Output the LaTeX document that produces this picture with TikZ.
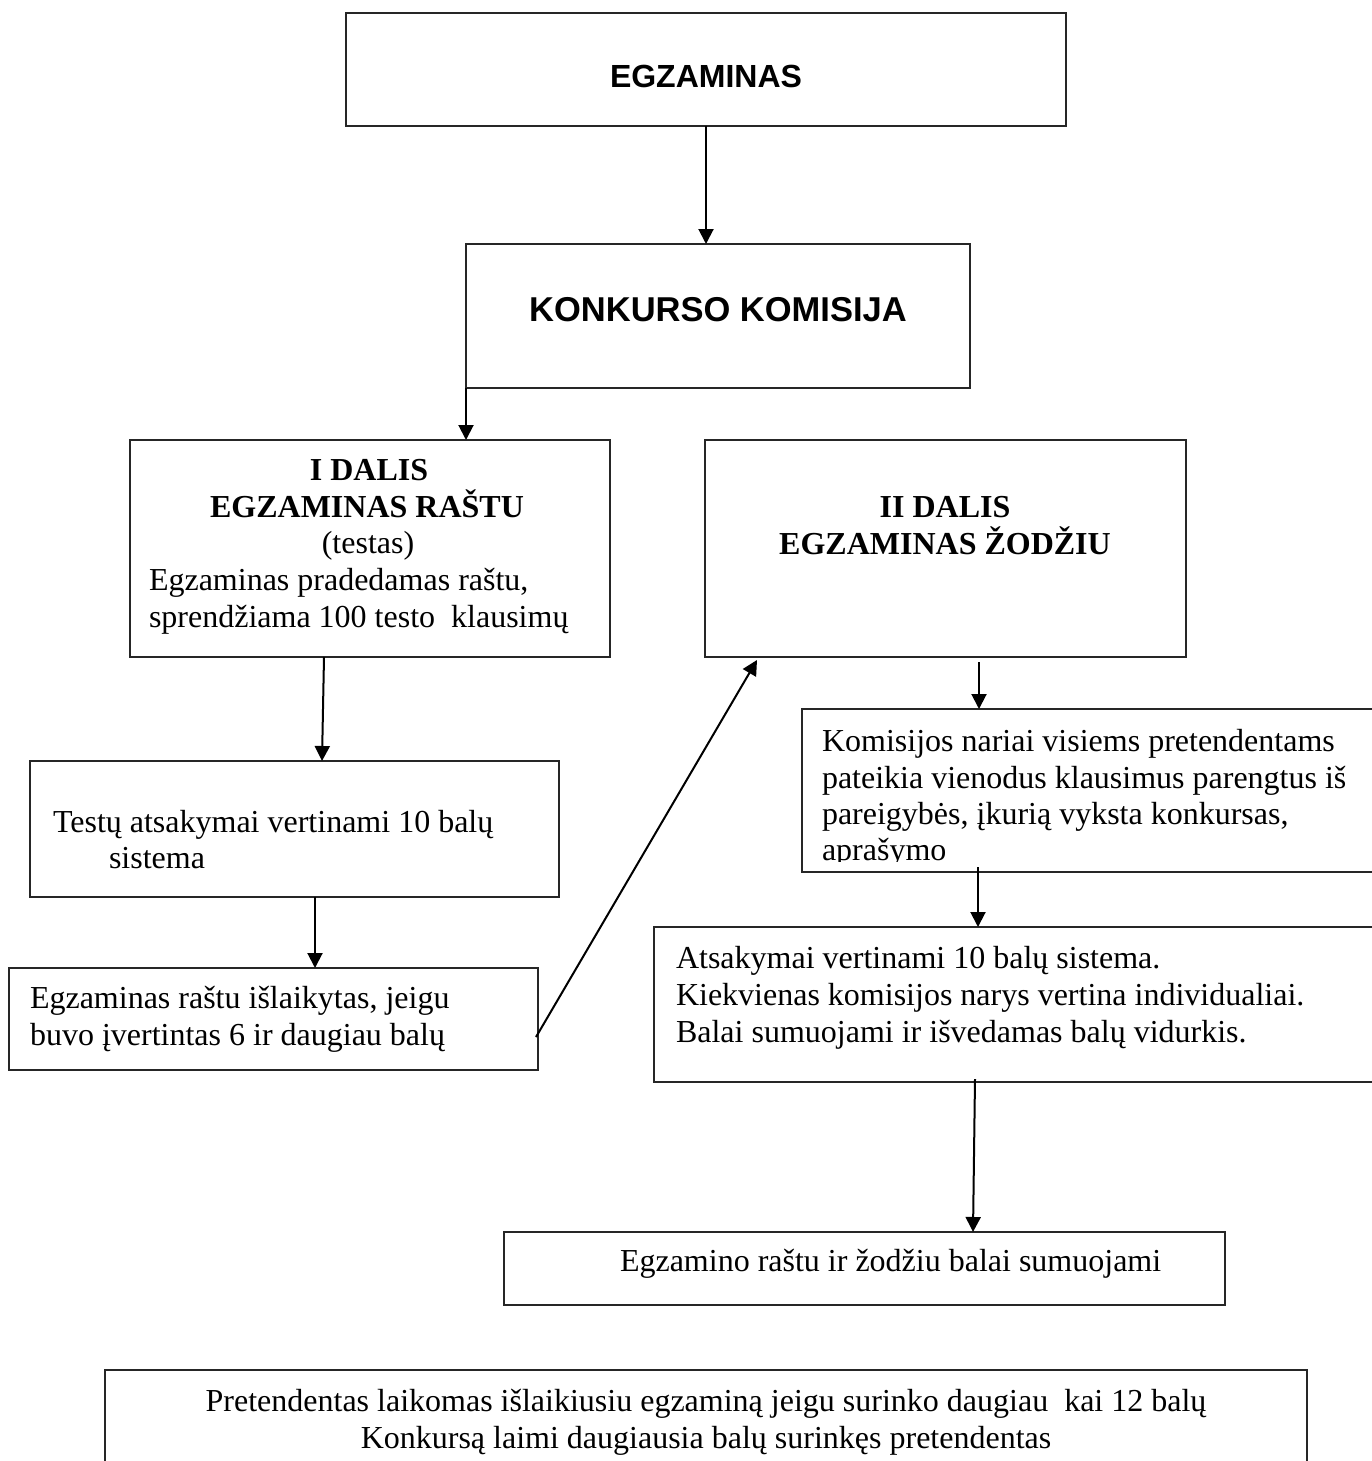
\documentclass[tikz,border=0pt]{standalone}
\usepackage{fontspec}
\setmainfont{Liberation Serif}
\setsansfont{Liberation Sans}
\usetikzlibrary{arrows.meta}
\begin{document}
\begin{tikzpicture}[x=0.5pt,y=-0.5pt,
  box/.style={draw=black!85, line width=1pt, inner sep=0pt, outer sep=0pt, anchor=north west},
  arr/.style={draw=black, line width=1pt, -{Triangle[length=7.5pt,width=7.5pt]}},
  txt/.style={inner sep=0pt, outer sep=0pt, font=\fontsize{16pt}{18.5pt}\selectfont},
  txtw/.style={txt, anchor=base west},
  txtc/.style={txt, anchor=base},
  head/.style={inner sep=0pt, outer sep=0pt, anchor=base, font=\sffamily\bfseries\fontsize{16pt}{18.5pt}\selectfont},
  bhead/.style={txtc, font=\bfseries\fontsize{16pt}{18.5pt}\selectfont}]
\useasboundingbox (0,0) rectangle (1371,1461);
\fill[white] (0,0) rectangle (1371,1461);

% boxes
\node[box, minimum width=360pt, minimum height=56.5pt] (b1) at (346,13) {};
\node[box, minimum width=252pt, minimum height=72pt] (b2) at (466,244) {};
\node[box, minimum width=240pt, minimum height=108.5pt] (b3) at (130,440) {};
\node[box, minimum width=240.5pt, minimum height=108.5pt] (b4) at (705,440) {};
\node[box, minimum width=299pt, minimum height=81.5pt] (b5) at (802,709) {};
\node[box, minimum width=264.5pt, minimum height=68pt] (b6) at (30,761) {};
\node[box, minimum width=264.5pt, minimum height=51pt] (b7) at (9,968) {};
\node[box, minimum width=373pt, minimum height=77.5pt] (b8) at (654,927) {};
\node[box, minimum width=360.5pt, minimum height=36.5pt] (b9) at (504,1232) {};
\node[box, minimum width=601pt, minimum height=60pt] (b10) at (105,1370) {};

% texts
\node[head] (t1) at (706,88) {EGZAMINAS};
\node[head, font=\sffamily\bfseries\fontsize{17.25pt}{20pt}\selectfont] (t2) at (718,321) {KONKURSO KOMISIJA};

\node[bhead] (t3a) at (369,480) {I DALIS};
\node[bhead] (t3b) at (367,517) {EGZAMINAS RAŠTU};
\node[txtc] (t3c) at (368,553) {(testas)};
\node[txtw] (t3d) at (149,590) {Egzaminas pradedamas raštu,};
\node[txtw] (t3e) at (149,627) {sprendžiama 100 testo\ \ klausimų};

\node[bhead] (t4a) at (945,517) {II DALIS};
\node[bhead] (t4b) at (945,554) {EGZAMINAS ŽODŽIU};

\begin{scope}
\clip (802,709) rectangle (1371,861);
\node[txtw] (t5a) at (822,751) {Komisijos nariai visiems pretendentams};
\node[txtw] (t5b) at (822,788) {pateikia vienodus klausimus parengtus iš};
\node[txtw] (t5c) at (822,824) {pareigybės, įkurią vyksta konkursas,};
\node[txtw] (t5d) at (822,860) {aprašymo};
\end{scope}

\node[txtw] (t6a) at (53,832) {Testų atsakymai vertinami 10 balų};
\node[txtw] (t6b) at (109,868) {sistema};

\node[txtw] (t7a) at (30,1008) {Egzaminas raštu išlaikytas, jeigu};
\node[txtw] (t7b) at (30,1045) {buvo įvertintas 6 ir daugiau balų};

\node[txtw] (t8a) at (676,968) {Atsakymai vertinami 10 balų sistema.};
\node[txtw] (t8b) at (676,1005) {Kiekvienas komisijos narys vertina individualiai.};
\node[txtw] (t8c) at (676,1042) {Balai sumuojami ir išvedamas balų vidurkis.};

\node[txtw] (t9) at (620,1271) {Egzamino raštu ir žodžiu balai sumuojami};

\node[txtc] (t10a) at (706,1411) {Pretendentas laikomas išlaikiusiu egzaminą jeigu surinko daugiau\ \ kai 12 balų};
\node[txtc] (t10b) at (706,1448) {Konkursą laimi daugiausia balų surinkęs pretendentas};

% connectors
\draw[arr] (b1.south) coordinate (p1) -- (p1 |- b2.north);
\draw[arr] (b2.south west) -- (b2.south west |- b3.north);
\draw[arr] ([xshift=97pt]b3.south west) -- ([xshift=146pt]b6.north west);
\draw[arr] ([xshift=142.5pt]b6.south west) coordinate (p4) -- (p4 |- b7.north);
\draw[arr] ([xshift=-1pt,yshift=-9pt]b7.east) -- ([xshift=26pt,yshift=-1.5pt]b4.south west);
\draw[arr] ([xshift=137pt,yshift=-2.5pt]b4.south west) coordinate (p6) -- (p6 |- b5.north);
\draw[arr] ([xshift=88pt,yshift=2.5pt]b5.south west) coordinate (p7) -- (p7 |- b8.north);
\draw[arr] ([xshift=160.5pt,yshift=1.5pt]b8.south west) -- ([xshift=234.5pt]b9.north west);
\end{tikzpicture}
\end{document}
